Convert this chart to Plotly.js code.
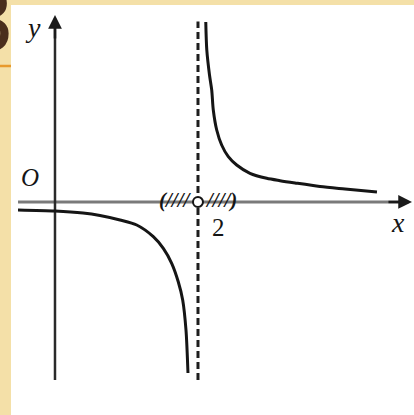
<!DOCTYPE html>
<html>
<head>
<meta charset="utf-8">
<script src="https://cdn.plot.ly/plotly-3.0.1.min.js"></script>
<style>html,body{margin:0;padding:0;background:#f4e0a8;}#chart{width:414px;height:415px;}</style>
</head>
<body>
<div id="chart"></div>
<script>
// Left branch of the curve (x < 2)
const leftX = [-0.517, 0.0, 0.392, 0.629, 0.909, 1.143, 1.375, 1.515, 1.632, 1.724, 1.786, 1.832, 1.860];
const leftY = [-0.112, -0.126, -0.154, -0.189, -0.252, -0.322, -0.485, -0.648, -0.857, -1.115, -1.371, -1.790, -2.392];
// Right branch of the curve (x > 2)
const rightX = [2.109, 2.123, 2.161, 2.192, 2.214, 2.262, 2.331, 2.424, 2.541, 2.727, 2.961, 3.147, 3.357, 3.706, 4.056, 4.503];
const rightY = [2.517, 2.126, 1.776, 1.566, 1.287, 1.007, 0.797, 0.634, 0.517, 0.401, 0.331, 0.298, 0.266, 0.217, 0.182, 0.140];
// Vertical asymptote
const asymX = [2, 2];
const asymY = [-2.49, 2.525];
// Axis extents
const xAxisX = [-0.517, 4.993];
const yAxisY = [-2.49, 2.615];
// Labels
const axisLabels = ["y", "O", "x", "2"];
const hatchLeft = "(////";
const hatchRight = "////)";
const cornerGlyph = "3";

const serif = "Liberation Serif";
const ink = "#151515";

const traces = [
  {x: leftX, y: leftY, mode: "lines", line: {color: ink, width: 3, shape: "spline", smoothing: 0.8}, hoverinfo: "skip", showlegend: false},
  {x: rightX, y: rightY, mode: "lines", line: {color: ink, width: 3, shape: "spline", smoothing: 0.8}, hoverinfo: "skip", showlegend: false},
  {x: asymX, y: asymY, mode: "lines", line: {color: "#1e1e1e", width: 3, dash: "7px,4px"}, hoverinfo: "skip", showlegend: false},
  {x: [-14], y: [38], xaxis: "x2", yaxis: "y2", mode: "text", text: [cornerGlyph], textposition: "middle center",
   textfont: {family: "Liberation Sans", size: 92, color: "#4a2e1c"}, cliponaxis: true, hoverinfo: "skip", showlegend: false}
];

const layout = {
  width: 414, height: 415,
  margin: {l: 0, r: 0, t: 0, b: 0},
  paper_bgcolor: "#f4e0a8",
  plot_bgcolor: "rgba(0,0,0,0)",
  showlegend: false,
  font: {family: serif},
  xaxis: {range: [-0.769, 5.021], visible: false, domain: [0, 1], fixedrange: true},
  yaxis: {range: [-2.979, 2.825], visible: false, domain: [0, 1], fixedrange: true},
  xaxis2: {range: [0, 12], visible: false, domain: [0, 11/414], anchor: "y2"},
  yaxis2: {range: [0, 66], visible: false, domain: [1 - 66/415, 1], anchor: "x2"},
  shapes: [
    {type: "rect", xref: "paper", yref: "paper", x0: 11/414, x1: 1, y0: 0, y1: 1 - 5/415,
     fillcolor: "#ffffff", line: {width: 0}, layer: "below"},
    {type: "line", xref: "paper", yref: "paper", x0: 0, x1: 11/414, y0: 1 - 66/415, y1: 1 - 66/415,
     line: {color: "#e89a2c", width: 2.5}, layer: "below"},
    {type: "line", xref: "x", yref: "y", x0: xAxisX[0], x1: xAxisX[1] - 0.1, y0: 0, y1: 0,
     line: {color: "#7a7a7a", width: 3}, layer: "below"},
    {type: "line", xref: "x", yref: "y", x0: 0, x1: 0, y0: yAxisY[0], y1: yAxisY[1] - 0.1,
     line: {color: "#2a2a2a", width: 2.5}, layer: "below"},
    {type: "circle", xref: "x", yref: "y", x0: 2 - 5/71.5, x1: 2 + 5/71.5, y0: -5/71.5, y1: 5/71.5,
     fillcolor: "#ffffff", line: {color: ink, width: 2}}
  ],
  annotations: [
    {x: 0, y: yAxisY[1], ax: 0, ay: yAxisY[1] - 0.35, axref: "x", ayref: "y", xref: "x", yref: "y",
     text: "", showarrow: true, arrowhead: 2, arrowsize: 1.1, arrowwidth: 2.5, arrowcolor: "#1a1a1a"},
    {x: xAxisX[1], y: 0, ax: xAxisX[1] - 0.35, ay: 0, axref: "x", ayref: "y", xref: "x", yref: "y",
     text: "", showarrow: true, arrowhead: 2, arrowsize: 1.1, arrowwidth: 2.5, arrowcolor: "#1a1a1a"},
    {x: -0.308, y: 2.434, xref: "x", yref: "y", text: "<i>" + axisLabels[0] + "</i>", showarrow: false,
     font: {family: serif, size: 28, color: ink}},
    {x: -0.35, y: 0.336, xref: "x", yref: "y", text: "<i>" + axisLabels[1] + "</i>", showarrow: false,
     font: {family: serif, size: 25, color: ink}},
    {x: 4.797, y: -0.28, xref: "x", yref: "y", text: "<i>" + axisLabels[2] + "</i>", showarrow: false,
     font: {family: serif, size: 28, color: ink}},
    {x: 2.28, y: -0.36, xref: "x", yref: "y", text: axisLabels[3], showarrow: false,
     font: {family: serif, size: 25, color: ink}},
    {x: 2 - 5/71.5, y: 0.03, xref: "x", yref: "y", xanchor: "right", text: "<b><i>" + hatchLeft + "</i></b>", showarrow: false,
     font: {family: serif, size: 21, color: ink}},
    {x: 2 + 5/71.5, y: 0.03, xref: "x", yref: "y", xanchor: "left", text: "<b><i>" + hatchRight + "</i></b>", showarrow: false,
     font: {family: serif, size: 21, color: ink}}
  ]
};

Plotly.newPlot("chart", traces, layout, {staticPlot: true, displayModeBar: false});
</script>
</body>
</html>
